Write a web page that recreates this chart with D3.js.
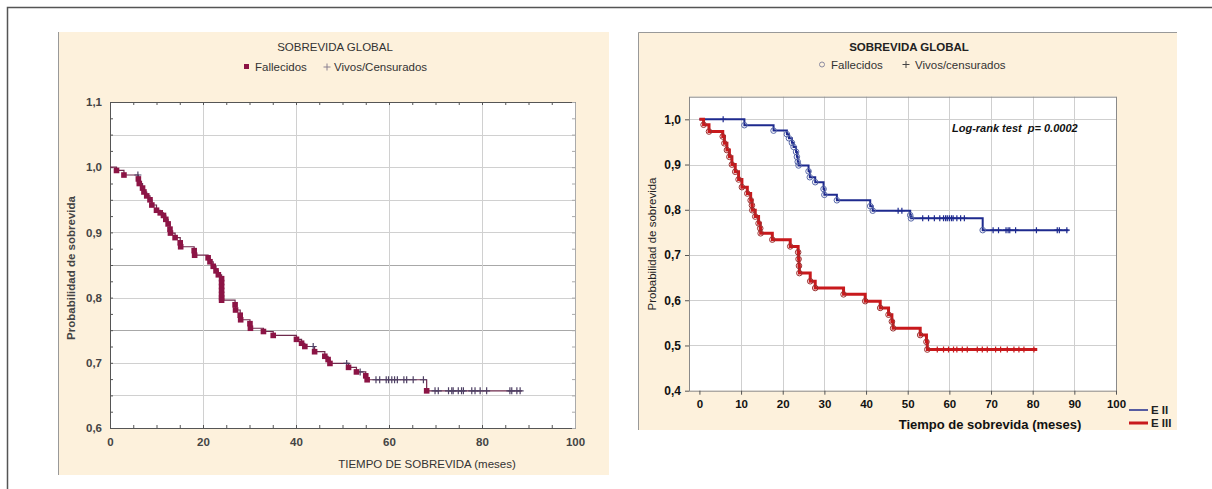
<!DOCTYPE html>
<html>
<head>
<meta charset="utf-8">
<script src="https://cdn.jsdelivr.net/npm/d3@7"></script>
<style>
  body { margin: 0; background: #fff; }
  svg { display: block; font-family: "Liberation Sans", Arial, sans-serif; }
</style>
</head>
<body>
<div id="chart-area"></div>
<script>
// ---- left chart: overall survival (all patients)
var leftDeathT = [1.4, 3.0, 6.1, 6.3, 7.0, 7.3, 7.9, 8.6, 9.0, 10.0, 10.8, 11.5, 12.0, 12.5, 12.9, 13.0,
    14.0, 15.1, 15.2, 18.1, 18.2, 21.1, 21.5, 22.2, 22.8, 23.3, 24.0, 24.0, 24.0, 24.0, 24.0, 24.0, 24.0,
    26.9, 27.0, 28.0, 28.1, 30.1, 30.2, 33.0, 35.1, 40.1, 41.2, 41.9, 44.0, 46.2, 46.9, 47.3, 51.3, 53.0,
    55.0, 55.3, 68.1];
var leftDeathS = [0.995, 0.988, 0.982, 0.975, 0.968, 0.962, 0.956, 0.950, 0.942, 0.934, 0.930, 0.926, 0.920, 0.913, 0.905, 0.899,
    0.892, 0.884, 0.878, 0.872, 0.865, 0.861, 0.855, 0.848, 0.841, 0.835, 0.829, 0.823, 0.817, 0.811, 0.805, 0.800, 0.796,
    0.789, 0.781, 0.773, 0.766, 0.760, 0.753, 0.748, 0.742, 0.736, 0.730, 0.725, 0.717, 0.710, 0.705, 0.699, 0.693, 0.686,
    0.680, 0.674, 0.657];
var leftCensT = [6.0, 43.7, 50.9, 53.8, 57.2, 58.0, 59.4, 59.9, 60.6, 61.2, 61.8, 63.2, 63.8, 65.2, 67.4,
    69.9, 70.6, 72.8, 73.5, 73.8, 74.9, 75.6, 76.0, 77.8, 78.5, 79.6, 81.0, 86.0, 86.4, 87.5, 88.2];
var leftEndT = 88.6;
var leftXTicks = [0, 20, 40, 60, 80, 100];
var leftYTicks = [0.6, 0.7, 0.8, 0.9, 1.0, 1.1];
var leftGridY = [0.65, 0.7, 0.75, 0.8, 0.85, 0.9, 0.95, 1.0, 1.05];

// ---- right chart: survival by stage
var e2DeathT = [10.8, 17.8, 21.0, 21.5, 22.2, 22.6, 23.2, 23.4, 23.6, 23.8, 26.2, 26.5, 27.8, 29.8, 30.0,
    33.0, 41.0, 41.6, 50.6, 50.8, 68.0];
var e2DeathS = [0.987, 0.975, 0.967, 0.958, 0.948, 0.939, 0.928, 0.917, 0.906, 0.898, 0.885, 0.872, 0.861, 0.846, 0.833,
    0.821, 0.808, 0.798, 0.788, 0.781, 0.755];
var e2CensT = [5.7, 47.7, 48.6, 53.6, 55.0, 56.4, 57.7, 58.6, 59.1, 59.5, 60.0, 60.5, 60.9, 61.8, 62.7, 63.6,
    70.5, 71.8, 73.6, 74.1, 74.5, 75.9, 80.9, 85.9, 86.4, 88.2];
var e2EndT = 88.6;

var e3DeathT = [1.0, 2.3, 5.6, 6.0, 6.6, 7.2, 7.8, 8.6, 9.4, 10.2, 11.5, 12.3, 12.6, 12.7, 13.4, 14.2, 14.6, 14.7,
    17.5, 21.8, 23.7, 23.8, 23.9, 24.0, 26.6, 27.8, 34.6, 39.8, 43.4, 45.4, 46.2, 46.5, 53.0, 54.5, 54.7];
var e3DeathS = [0.988, 0.973, 0.962, 0.947, 0.932, 0.917, 0.900, 0.884, 0.867, 0.850, 0.836, 0.821, 0.810, 0.799, 0.785, 0.770, 0.759, 0.748,
    0.734, 0.719, 0.706, 0.691, 0.676, 0.660, 0.642, 0.627, 0.613, 0.598, 0.583, 0.568, 0.553, 0.538, 0.523, 0.508, 0.491];
var e3CensT = [57.1, 58.6, 59.8, 61.0, 61.8, 63.1, 64.3, 66.7, 67.9, 69.1, 71.1, 72.3, 73.9, 75.5, 76.7, 77.9, 80.3];
var e3EndT = 81.1;

var rightXTicks = [0, 10, 20, 30, 40, 50, 60, 70, 80, 90, 100];
var rightYTicks = [0.4, 0.5, 0.6, 0.7, 0.8, 0.9, 1.0];
var groups = ["E II", "E III"];

var comma = (d) => d.toFixed(1).replace(".", ",");

var svg = d3.select("#chart-area").append("svg")
    .attr("width", 1212)
    .attr("height", 489);

// outer frame
svg.append("path")
    .attr("d", "M7.5,489 V7.5 H1212")
    .attr("fill", "none")
    .attr("stroke", "#555")
    .attr("stroke-width", 1.5);

// step path points for a KM curve
function stepPoints(times, surv, endT) {
    var pts = [[0, 1]];
    times.forEach((t, i) => { pts.push([t, surv[i]]) });
    pts.push([endT, surv[surv.length - 1]]);
    return pts;
}
function survAt(times, surv, t) {
    var s = 1;
    times.forEach((tt, i) => { if (tt <= t) s = surv[i] });
    return s;
}
function plusPath(cx, cy, r) {
    return "M" + (cx - r) + "," + cy + "H" + (cx + r) + "M" + cx + "," + (cy - r) + "V" + (cy + r);
}

// ================= LEFT PANEL =================
svg.append("rect")
    .attr("x", 58).attr("y", 32).attr("width", 551).attr("height", 443)
    .attr("fill", "#fdf1dc");
svg.append("line")
    .attr("x1", 58.5).attr("x2", 58.5).attr("y1", 32).attr("y2", 475)
    .attr("stroke", "#999");

var lx = d3.scaleLinear().domain([0, 100]).range([110, 575]);
var ly = d3.scaleLinear().domain([0.6, 1.1]).range([428, 102]);

var lg = svg.append("g");
lg.append("rect")
    .attr("x", lx(0)).attr("y", ly(1.1))
    .attr("width", lx(100) - lx(0)).attr("height", ly(0.6) - ly(1.1))
    .attr("fill", "#fff");

lg.selectAll(".gy").data(leftGridY).enter().append("line")
    .attr("x1", lx(0)).attr("x2", lx(100))
    .attr("y1", (d) => Math.round(ly(d)) + 0.5).attr("y2", (d) => Math.round(ly(d)) + 0.5)
    .attr("stroke", (d) => (Math.abs(d - 0.85) < 1e-6 || Math.abs(d - 0.75) < 1e-6) ? "#a8a8a8" : "#d0d0d0");
lg.selectAll(".gx").data(leftXTicks.slice(1, -1)).enter().append("line")
    .attr("y1", ly(1.1)).attr("y2", ly(0.6))
    .attr("x1", (d) => Math.round(lx(d)) + 0.5).attr("x2", (d) => Math.round(lx(d)) + 0.5)
    .attr("stroke", "#d0d0d0");

// minor inside ticks on all four sides
var lMinorX = d3.range(0, 101, 5), lMinorY = d3.range(0.6, 1.1001, 0.025);
[["b", d3.axisBottom(lx), ly(0.6)], ["t", d3.axisTop(lx), ly(1.1)]].forEach((a) => {
    lg.append("g").attr("transform", "translate(0," + a[2] + ")")
        .call(a[1].tickValues(lMinorX).tickSize(-3).tickFormat(""))
        .call((g) => g.selectAll("line,path").attr("stroke", "#555"));
});
[["l", d3.axisLeft(ly), lx(0)], ["r", d3.axisRight(ly), lx(100)]].forEach((a) => {
    lg.append("g").attr("transform", "translate(" + a[2] + ",0)")
        .call(a[1].tickValues(lMinorY).tickSize(-3).tickFormat(""))
        .call((g) => g.selectAll("line,path").attr("stroke", a[0] == "l" ? "#555" : "#aaa"));
});

// tick labels
lg.append("g").attr("transform", "translate(0," + ly(0.6) + ")")
    .call(d3.axisBottom(lx).tickValues(leftXTicks).tickSize(0).tickPadding(10).tickFormat(d3.format("d")))
    .call((g) => g.select(".domain").remove())
    .call((g) => g.selectAll("text").attr("font-size", 11.5).attr("font-weight", "bold")
        .attr("fill", "#444").attr("font-family", "Liberation Sans, Arial"));
lg.append("g").attr("transform", "translate(" + lx(0) + ",0)")
    .call(d3.axisLeft(ly).tickValues(leftYTicks).tickSize(0).tickPadding(8).tickFormat(comma))
    .call((g) => g.select(".domain").remove())
    .call((g) => g.selectAll("text").attr("font-size", 11.5).attr("font-weight", "bold")
        .attr("fill", "#444").attr("font-family", "Liberation Sans, Arial"));

var lLine = d3.line()
    .x((d) => lx(d[0]))
    .y((d) => ly(d[1]))
    .curve(d3.curveStepAfter);
lg.append("path")
    .attr("d", lLine(stepPoints(leftDeathT, leftDeathS, leftEndT)))
    .attr("fill", "none")
    .attr("stroke", "#6e2a4c")
    .attr("stroke-width", 1.2);

lg.selectAll(".lc").data(leftCensT).enter().append("path")
    .attr("d", (d) => plusPath(lx(d), ly(survAt(leftDeathT, leftDeathS, d)), 3.5))
    .attr("stroke", "#4e4064")
    .attr("stroke-width", 1.2);
lg.selectAll(".ld").data(leftDeathT).enter().append("rect")
    .attr("x", (d) => lx(d) - 2.8)
    .attr("y", (d, i) => ly(leftDeathS[i]) - 2.8)
    .attr("width", 5.6).attr("height", 5.6)
    .attr("fill", "#8c1445");

// texts
svg.append("text").attr("x", 335).attr("y", 51).attr("text-anchor", "middle")
    .attr("font-size", 11.5).attr("fill", "#333").text("SOBREVIDA GLOBAL");
svg.append("rect").attr("x", 244).attr("y", 64).attr("width", 5).attr("height", 5).attr("fill", "#8c1445");
svg.append("text").attr("x", 255).attr("y", 71).attr("font-size", 11.5).attr("fill", "#333").text("Fallecidos");
svg.append("path").attr("d", plusPath(327, 67, 3.5)).attr("stroke", "#8a8090");
svg.append("text").attr("x", 334).attr("y", 71).attr("font-size", 11.5).attr("fill", "#333").text("Vivos/Censurados");
svg.append("text").attr("transform", "translate(75," + 268 + ") rotate(-90)")
    .attr("text-anchor", "middle").attr("font-size", 11.5).attr("font-weight", "bold").attr("fill", "#444")
    .text("Probabilidad de sobrevida");
svg.append("text").attr("x", 427).attr("y", 468).attr("text-anchor", "middle")
    .attr("font-size", 11.5).attr("fill", "#333").text("TIEMPO DE SOBREVIDA (meses)");

// ================= RIGHT PANEL =================
svg.append("rect")
    .attr("x", 638).attr("y", 32).attr("width", 539).attr("height", 398)
    .attr("fill", "#fdf1dc");
svg.append("path")
    .attr("d", "M638.5,430 V32.5 H1177")
    .attr("fill", "none").attr("stroke", "#999");

var rx = d3.scaleLinear().domain([-2.5, 100]).range([689, 1116]);
var ry = d3.scaleLinear().domain([0.4, 1.05]).range([390.7, 96.7]);

var rg = svg.append("g");
rg.append("rect")
    .attr("x", rx(-2.5)).attr("y", ry(1.05))
    .attr("width", rx(100) - rx(-2.5)).attr("height", ry(0.4) - ry(1.05))
    .attr("fill", "#fff");
rg.selectAll(".gy").data(rightYTicks.slice(1)).enter().append("line")
    .attr("x1", rx(-2.5)).attr("x2", rx(100))
    .attr("y1", (d) => Math.round(ry(d)) + 0.5).attr("y2", (d) => Math.round(ry(d)) + 0.5)
    .attr("stroke", "#cfcfcf");
rg.selectAll(".gx").data(rightXTicks.slice(1, -1)).enter().append("line")
    .attr("y1", ry(1.05)).attr("y2", ry(0.4))
    .attr("x1", (d) => Math.round(rx(d)) + 0.5).attr("x2", (d) => Math.round(rx(d)) + 0.5)
    .attr("stroke", "#cfcfcf");
rg.append("rect")
    .attr("x", rx(-2.5) + 0.5).attr("y", ry(1.05) + 0.5)
    .attr("width", rx(100) - rx(-2.5)).attr("height", ry(0.4) - ry(1.05))
    .attr("fill", "none").attr("stroke", "#8a8a8a");

rg.append("g").attr("transform", "translate(0," + ry(0.4) + ")")
    .call(d3.axisBottom(rx).tickValues(rightXTicks).tickSize(4).tickPadding(5).tickFormat(d3.format("d")))
    .call((g) => g.select(".domain").remove())
    .call((g) => g.selectAll("line").attr("stroke", "#555"))
    .call((g) => g.selectAll("text").attr("font-size", 11.5).attr("font-weight", "bold")
        .attr("fill", "#111").attr("font-family", "Liberation Sans, Arial"));
rg.append("g").attr("transform", "translate(" + rx(-2.5) + ",0)")
    .call(d3.axisLeft(ry).tickValues(rightYTicks).tickSize(4).tickPadding(4).tickFormat(comma))
    .call((g) => g.select(".domain").remove())
    .call((g) => g.selectAll("line").attr("stroke", "#555"))
    .call((g) => g.selectAll("text").attr("font-size", 12).attr("font-weight", "bold")
        .attr("fill", "#111").attr("font-family", "Liberation Sans, Arial"));

var rLine = d3.line()
    .x((d) => rx(d[0]))
    .y((d) => ry(d[1]))
    .curve(d3.curveStepAfter);

var series = [
    {name: groups[0], t: e2DeathT, s: e2DeathS, c: e2CensT, end: e2EndT, color: "#1e2a8e", w: 2, mark: "#5868a8"},
    {name: groups[1], t: e3DeathT, s: e3DeathS, c: e3CensT, end: e3EndT, color: "#c8191c", w: 3, mark: "#9a3030"}
];
series.forEach((sr) => {
    rg.append("path")
        .attr("d", rLine(stepPoints(sr.t, sr.s, sr.end)))
        .attr("fill", "none")
        .attr("stroke", sr.color)
        .attr("stroke-width", sr.w);
    rg.selectAll(null).data(sr.c).enter().append("path")
        .attr("d", (d) => plusPath(rx(d), ry(survAt(sr.t, sr.s, d)), 3))
        .attr("stroke", sr.color)
        .attr("stroke-width", 1.2);
    rg.selectAll(null).data(sr.t).enter().append("circle")
        .attr("cx", (d) => rx(d))
        .attr("cy", (d, i) => ry(sr.s[i]))
        .attr("r", 2.8)
        .attr("fill", "none")
        .attr("stroke", sr.mark)
        .attr("stroke-width", 1);
});

svg.append("text").attr("x", 909).attr("y", 51).attr("text-anchor", "middle")
    .attr("font-size", 11.5).attr("font-weight", "bold").attr("fill", "#222").text("SOBREVIDA GLOBAL");
svg.append("circle").attr("cx", 822).attr("cy", 64.5).attr("r", 2.5)
    .attr("fill", "none").attr("stroke", "#8a8aa0");
svg.append("text").attr("x", 831).attr("y", 68.5).attr("font-size", 11.5).attr("fill", "#333").text("Fallecidos");
svg.append("path").attr("d", plusPath(906, 64.5, 3.5)).attr("stroke", "#444");
svg.append("text").attr("x", 915).attr("y", 68.5).attr("font-size", 11.5).attr("fill", "#333").text("Vivos/censurados");
svg.append("text").attr("x", 952).attr("y", 131.5)
    .attr("font-size", 11).attr("font-weight", "bold").attr("font-style", "italic").attr("fill", "#111")
    .text("Log-rank test\u00a0 p= 0.0002");
svg.append("text").attr("transform", "translate(656," + 244 + ") rotate(-90)")
    .attr("text-anchor", "middle").attr("font-size", 11.5).attr("fill", "#222")
    .text("Probabilidad de sobrevida");
svg.append("text").attr("x", 990).attr("y", 429).attr("text-anchor", "middle")
    .attr("font-size", 13).attr("font-weight", "bold").attr("fill", "#111")
    .text("Tiempo de sobrevida (meses)");

// group legend
series.forEach((sr, i) => {
    var yy = 410 + i * 13;
    svg.append("line").attr("x1", 1129).attr("x2", 1148).attr("y1", yy).attr("y2", yy)
        .attr("stroke", sr.color).attr("stroke-width", i == 0 ? 1.5 : 3);
    svg.append("text").attr("x", 1151).attr("y", yy + 4).attr("font-size", 11.5).attr("font-weight", "bold")
        .attr("fill", "#222").text(sr.name);
});
</script>
</body>
</html>
